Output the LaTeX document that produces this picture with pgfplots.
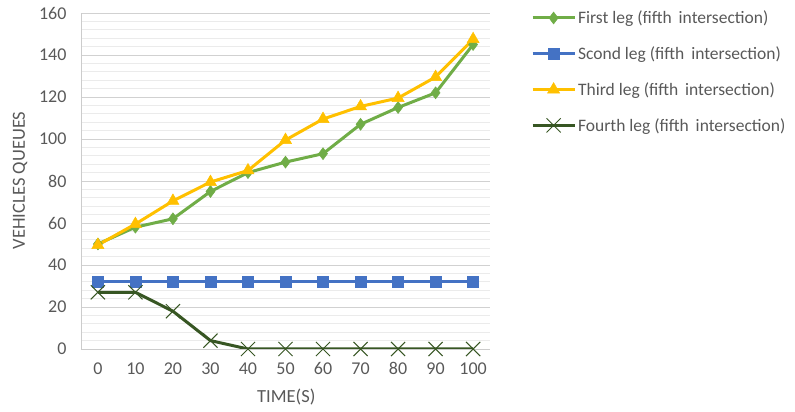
\documentclass[border=0pt]{standalone}
\usepackage{pgfplots}
\pgfplotsset{compat=1.18}
\usepackage{fontspec}
\setmainfont{Carlito}
\definecolor{gA}{HTML}{70AD47}
\definecolor{bA}{HTML}{4472C4}
\definecolor{yA}{HTML}{FFC000}
\definecolor{dA}{HTML}{375623}
\definecolor{txt}{HTML}{595959}
\begin{document}
\begin{tikzpicture}
\begin{axis}[name=ax, at={(0,0)}, anchor=south west,
  scale only axis, width=409pt, height=336pt,
  xmin=-4.5, xmax=104.5, ymin=0, ymax=160,
  xtick={0,10,...,100}, ytick={0,20,...,160},
  minor y tick num=4,
  ymajorgrids, yminorgrids,
  major grid style={draw=black!18, line width=0.9pt},
  minor grid style={draw=black!8, line width=0.6pt},
  axis lines*=left,
  axis line style={draw=black!20, line width=0.9pt},
  major tick length=0pt, minor tick length=0pt,
  tick label style={font=\fontsize{18}{18}\selectfont, text=txt},
  xticklabel style={yshift=-10pt},
  yticklabel style={xshift=-11pt},
  /pgf/number format/assume math mode=true,
  xlabel={TIME(S)}, ylabel={VEHICLES QUEUES},
  label style={font=\fontsize{18.5}{18.5}\selectfont, text=txt},
  xlabel style={at={(axis description cs:0.502,-0.143)}, anchor=center},
  ylabel style={at={(axis description cs:-0.149,0.502)}, anchor=center},
  legend style={at={(1.10,1.013)}, anchor=north west, draw=none, fill=none,
    font=\fontsize{17.5}{17.5}\selectfont, text=txt, row sep=17.5pt, inner sep=0pt},
  legend cell align=left,
  legend image code/.code={\draw[mark repeat=2,mark phase=2] plot coordinates {(0pt,0pt) (21pt,0pt) (42pt,0pt)};},
]
\addplot[color=gA, line width=3pt, mark=diamond*, mark size=6pt, mark options={fill=gA, line width=0.5pt}]
  coordinates {(0,50) (10,58) (20,62) (30,75) (40,84) (50,89) (60,93) (70,107) (80,115) (90,122) (100,145)};
\addlegendentry{First leg (fifth\, intersection)}
\addplot[color=bA, line width=3pt, mark=square*, mark size=5.5pt, mark options={fill=bA, line width=0.5pt}]
  coordinates {(0,32) (10,32) (20,32) (30,32) (40,32) (50,32) (60,32) (70,32) (80,32) (90,32) (100,32)};
\addlegendentry{Scond leg (fifth\, intersection)}
\addplot[color=yA, line width=3pt, mark=triangle*, mark size=7pt, mark options={fill=yA, line width=0.5pt}]
  coordinates {(0,49.5) (10,59.5) (20,70.5) (30,79.5) (40,85) (50,99.5) (60,109.5) (70,115.5) (80,119.5) (90,129.5) (100,147.5)};
\addlegendentry{Third leg (fifth\, intersection)}
\addplot[color=dA, line width=3pt, mark=x, mark size=10pt, mark options={line width=1pt}]
  coordinates {(0,27) (10,27) (20,18) (30,4) (40,0) (50,0) (60,0) (70,0) (80,0) (90,0) (100,0)};
\addlegendentry{Fourth leg (fifth\, intersection)}
\end{axis}
\path ([shift={(-81pt,-63pt)}]ax.south west) rectangle ([shift={(714pt,349pt)}]ax.south west);
\end{tikzpicture}
\end{document}
